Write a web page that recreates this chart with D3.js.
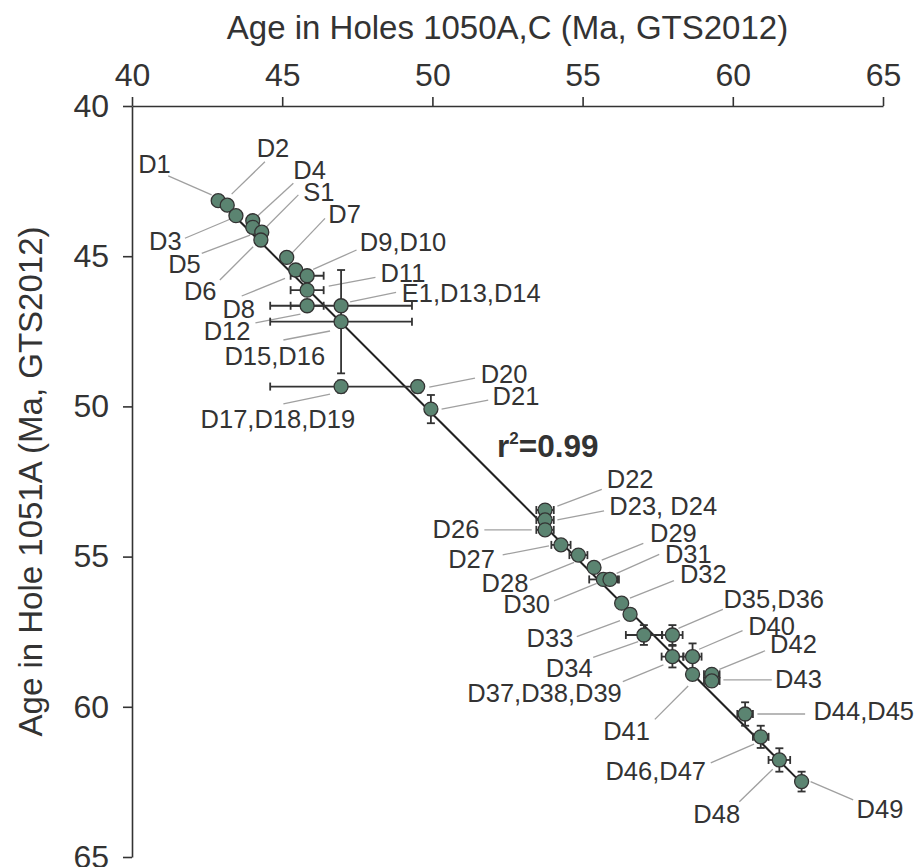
<!DOCTYPE html>
<html>
<head>
<meta charset="utf-8">
<script src="https://cdn.jsdelivr.net/npm/d3@7"></script>
<style>
  html, body { margin: 0; padding: 0; background: #fff; }
  svg { display: block; font-family: "Liberation Sans", Arial, sans-serif; }
</style>
</head>
<body>
<svg id="chart" width="919" height="867"></svg>
<script>
// Datum ages (Ma, GTS2012) in Holes 1050A,C (x) and Hole 1051A (y)
const pointNames = ["D1","D2","D3","D4","D5","S1","D6","D7","D8","D9,D10","D11","D12",
  "E1,D13,D14","D15,D16","D17,D18,D19","D20","D21","D22","D23, D24","D26","D27","D28",
  "D29","D30","D31","D32","D33","D34","D35,D36","D37,D38,D39","D40","D41","D42","D43",
  "D44,D45","D46,D47","D48","D49"];
const age1050 = [42.87,43.17,43.46,44.02,44.02,44.32,44.29,45.15,45.45,45.83,45.83,45.83,
  46.96,46.96,46.96,49.51,49.95,53.75,53.75,53.75,54.28,54.86,
  55.38,55.69,55.91,56.30,56.58,57.04,57.99,57.99,58.66,58.66,59.30,59.30,
  60.41,60.93,61.55,62.29];
const age1051 = [43.15,43.30,43.65,43.82,44.04,44.20,44.46,45.04,45.46,45.65,46.13,46.65,
  46.65,47.18,49.34,49.34,50.09,53.45,53.78,54.11,54.61,54.95,
  55.36,55.76,55.76,56.55,56.92,57.61,57.61,58.33,58.33,58.92,58.92,59.14,
  60.24,61.00,61.77,62.49];
// ± uncertainty on each age
const err1050 = [0,0,0,0,0,0,0,0,0,0.55,0.55,0.55,
  2.36,2.36,2.36,0,0,0.29,0.29,0.29,0.32,0.30,
  0,0.47,0.30,0,0,0.60,0.34,0.36,0.30,0,0.26,0.26,
  0.26,0.26,0.36,0];
const err1051 = [0,0,0,0,0,0,0,0,0,0,0,0,
  0,1.72,0.2,0.2,0.47,0,0,0,0,0,
  0,0,0,0,0,0.33,0.33,0.36,0.44,0,0,0,
  0.39,0.37,0.39,0.33];

const axisTicks = [40, 45, 50, 55, 60, 65];
const fitSlope = 1.0, fitIntercept = 0.25, fitRange = [42.87, 62.29];
const fitLabel = "0.99";

// Callout placement, pixel offsets from each marker:
// [text dx, text dy, anchor, leader start dx, dy, leader end dx, dy]
const callouts = [
  [-80,-28,"start",-50,-24.7,-6.6,-5.7],
  [29.4,-48.3,"start",37.7,-43.3,4.4,-11],
  [-54.3,34.3,"end",-51,22.6,-6,3.6],
  [40.6,-41.4,"start",40.6,-37.4,4,-4],
  [-52,46,"end",-51,26,-2.7,7.7],
  [41.6,-31.3,"start",36.6,-37.3,3.3,-4],
  [-44.3,60,"end",-41,40,-7.7,6.7],
  [41.6,-34,"start",38.3,-39,5,-4],
  [-40.7,48.3,"end",-54,26,-10.7,8.3],
  [52.7,-25,"start",49.4,-25.7,6,-6.4],
  [73.3,-8.3,"start",68.3,-12.7,21.6,-4],
  [-56.7,34.3,"end",-51.7,17,-6.7,8.3],
  [60.7,-4,"start",55,-13.4,9,-4],
  [-16,43.3,"end",-57.7,18.3,-11,9.3],
  [14,41.6,"end",-57.7,17.3,-11,7.6],
  [63,-3.4,"start",57.3,-8.4,11.6,0.6],
  [61.7,-4,"start",57.3,-9,10.7,0],
  [61.7,-21.7,"start",56.7,-20.7,12.3,-4],
  [64.3,-5,"start",59,-9,12.3,0],
  [-65.7,8.3,"end",-60.7,0,-13.3,0],
  [-66,23.3,"end",-58.3,10,-12,1],
  [-50,36.7,"end",-48.3,25,-4.3,7.3],
  [56,-25.6,"start",49.3,-24,7.7,-7.3],
  [-53.3,34,"end",-49.3,21.4,-6.6,4],
  [55,-16,"start",49.3,-25,6.7,-6],
  [58.3,-20,"start",52.3,-22.6,8.3,-5],
  [-56.7,32.4,"end",-53.3,22.4,-10,6.4],
  [-51.3,41.7,"end",-50.7,22.3,-5.7,6.7],
  [51,-26.7,"start",50.4,-25.7,6,-6.7],
  [-50.6,45,"end",-49.6,25,-9,8.3],
  [55.6,-21.7,"start",50,-26,6.6,-7.4],
  [-89.4,65.7,"start",-37.7,45,-4.4,11.7],
  [58.3,-21,"start",53.3,-23.6,7.6,-5],
  [63.3,7.3,"start",60,-1,11.6,-1],
  [68.3,6,"start",60,0,12.3,0],
  [-54.7,43.3,"end",-50,26,-6.7,7.3],
  [-86,62.7,"start",-40,41.7,-6.6,9.3],
  [55,36.6,"start",51.6,18.3,9,0]
];

const ink = "#333333";
const svg = d3.select("#chart");
const x = d3.scaleLinear().domain([40, 65]).range([132, 883]);
const y = d3.scaleLinear().domain([40, 65]).range([106, 857]);

const points = pointNames.map((name, i) => ({
  name, xv: age1050[i], yv: age1051[i], ex: err1050[i], ey: err1051[i], c: callouts[i]
}));

// Axes: x along the top, y down the left side
const gx = svg.append("g").attr("transform", `translate(0,${y(40)})`)
  .call(d3.axisTop(x).tickValues(axisTicks).tickSize(9).tickSizeOuter(0).tickPadding(11));
const gy = svg.append("g").attr("transform", `translate(${x(40)},0)`)
  .call(d3.axisLeft(y).tickValues(axisTicks).tickSize(9).tickSizeOuter(0).tickPadding(14));
[gx, gy].forEach(g => {
  g.attr("font-family", null).attr("font-size", null);
  g.select(".domain").attr("stroke", ink).attr("stroke-width", 1.6);
  g.selectAll(".tick line").attr("stroke", ink).attr("stroke-width", 1.6);
  g.selectAll(".tick text").attr("fill", ink).attr("font-size", 32);
});

svg.append("text").attr("x", (x(40) + x(65)) / 2).attr("y", 39)
  .attr("text-anchor", "middle").attr("font-size", 33).attr("fill", ink)
  .text("Age in Holes 1050A,C (Ma, GTS2012)");
svg.append("text").attr("transform", `translate(42,${(y(40) + y(65)) / 2}) rotate(-90)`)
  .attr("text-anchor", "middle").attr("font-size", 33).attr("fill", ink)
  .text("Age in Hole 1051A (Ma, GTS2012)");

// Regression line
svg.append("path")
  .datum(fitRange.map(v => [v, fitSlope * v + fitIntercept]))
  .attr("d", d3.line().x(d => x(d[0])).y(d => y(d[1])))
  .attr("stroke", "#222").attr("stroke-width", 2).attr("fill", "none");

// Callout leader lines
svg.append("g").selectAll("line").data(points).join("line")
  .attr("x1", d => x(d.xv) + d.c[3]).attr("y1", d => y(d.yv) + d.c[4])
  .attr("x2", d => x(d.xv) + d.c[5]).attr("y2", d => y(d.yv) + d.c[6])
  .attr("stroke", "#a0a0a0").attr("stroke-width", 1.3);

// Error bars with caps
const cap = 4;
const eb = svg.append("g").attr("stroke", ink).attr("stroke-width", 1.8);
points.filter(d => d.ex > 0).forEach(d => {
  const py = y(d.yv), x0 = x(d.xv - d.ex), x1 = x(d.xv + d.ex);
  eb.append("line").attr("x1", x0).attr("x2", x1).attr("y1", py).attr("y2", py);
  eb.append("line").attr("x1", x0).attr("x2", x0).attr("y1", py - cap).attr("y2", py + cap);
  eb.append("line").attr("x1", x1).attr("x2", x1).attr("y1", py - cap).attr("y2", py + cap);
});
points.filter(d => d.ey > 0).forEach(d => {
  const px = x(d.xv), y0 = y(d.yv - d.ey), y1 = y(d.yv + d.ey);
  eb.append("line").attr("x1", px).attr("x2", px).attr("y1", y0).attr("y2", y1);
  eb.append("line").attr("x1", px - cap).attr("x2", px + cap).attr("y1", y0).attr("y2", y0);
  eb.append("line").attr("x1", px - cap).attr("x2", px + cap).attr("y1", y1).attr("y2", y1);
});

// Markers
svg.append("g").selectAll("circle").data(points).join("circle")
  .attr("cx", d => x(d.xv)).attr("cy", d => y(d.yv)).attr("r", 7)
  .attr("fill", "#5b8471").attr("stroke", ink).attr("stroke-width", 1.3);

// Datum labels
svg.append("g").selectAll("text").data(points).join("text")
  .attr("x", d => x(d.xv) + d.c[0]).attr("y", d => y(d.yv) + d.c[1])
  .attr("text-anchor", d => d.c[2])
  .attr("font-size", 25.5).attr("fill", ink)
  .text(d => d.name);

// Goodness of fit
const r2 = svg.append("text").attr("x", 497).attr("y", 457)
  .attr("font-size", 31.5).attr("font-weight", "bold").attr("fill", ink);
r2.append("tspan").text("r");
r2.append("tspan").attr("font-size", 17).attr("dy", -13).text("2");
r2.append("tspan").attr("dy", 13).text("=" + fitLabel);
</script>
</body>
</html>
